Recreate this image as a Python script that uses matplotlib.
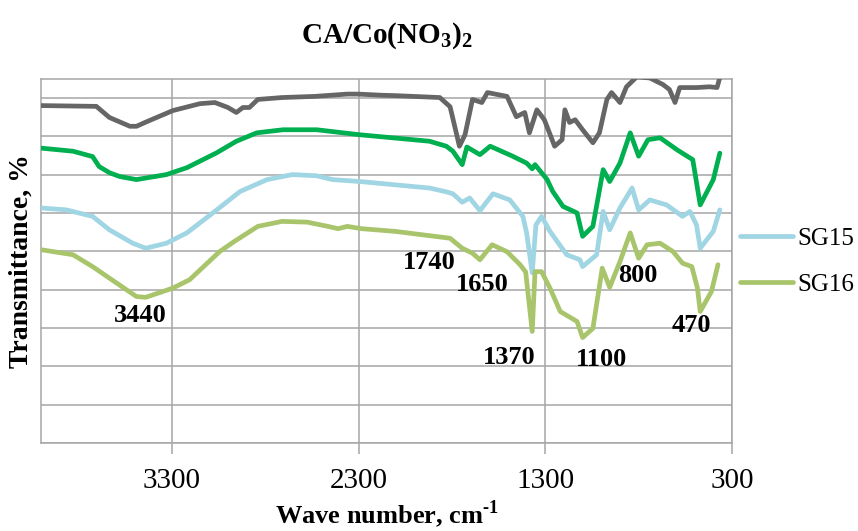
import matplotlib
matplotlib.use("Agg")
import matplotlib.pyplot as plt

plt.rcParams['font.family'] = ['Liberation Serif', 'DejaVu Serif']
plt.rcParams['mathtext.fontset'] = 'custom'
plt.rcParams['mathtext.rm'] = 'Liberation Serif:bold'
plt.rcParams['mathtext.bf'] = 'Liberation Serif:bold'

# FTIR spectra, wave number (cm-1) vs transmittance (offset curves)
gray_wn = [4000, 3705, 3635, 3525, 3490, 3435, 3295, 3150, 3070, 3000, 2955, 2920, 2885, 2840,
           2710, 2535, 2360, 2305, 2175, 2105, 1865, 1810, 1760, 1730, 1690, 1640, 1610, 1505,
           1455, 1410, 1385, 1345, 1305, 1250, 1210, 1195, 1170, 1140, 1100, 1045, 1010, 970,
           945, 900, 865, 810, 740, 670, 635, 605, 580, 490, 420, 380, 365]
gray_t = [88.0, 87.8, 84.9, 82.6, 82.6, 83.8, 86.7, 88.5, 88.8, 87.5, 86.2, 87.5, 87.5, 89.6,
          90.1, 90.4, 91.0, 91.0, 90.7, 90.6, 90.1, 87.7, 77.4, 80.4, 89.6, 88.8, 91.4, 90.4,
          85.1, 86.2, 80.9, 86.9, 84.3, 77.4, 79.1, 86.9, 83.6, 84.3, 81.7, 78.3, 80.9, 89.6,
          91.4, 88.8, 92.9, 95.5, 95.2, 93.5, 92.2, 88.8, 92.7, 92.7, 92.9, 92.7, 95.3]

green_wn = [4000, 3830, 3725, 3690, 3635, 3580, 3490, 3330, 3220, 3060, 2955, 2845, 2705, 2525,
            2295, 1920, 1830, 1795, 1745, 1720, 1650, 1595, 1475, 1400, 1370, 1355, 1290, 1260,
            1205, 1130, 1100, 1045, 990, 955, 900, 845, 800, 750, 685, 595, 540, 510, 470, 400, 365]
green_t = [76.9, 76.1, 74.7, 72.1, 70.5, 69.5, 68.7, 70.0, 71.8, 75.7, 78.7, 80.9, 81.7, 81.7,
           80.4, 78.7, 77.4, 76.1, 72.6, 77.2, 75.2, 77.4, 74.8, 73.0, 71.5, 72.6, 68.7, 65.6,
           61.7, 60.0, 53.9, 56.5, 71.3, 68.2, 73.0, 80.9, 74.8, 79.1, 79.6, 76.5, 74.8, 73.9,
           62.1, 68.7, 75.6]

sg15_wn = [4000, 3865, 3725, 3635, 3510, 3440, 3330, 3220, 3060, 2935, 2790, 2655, 2525, 2440,
           2295, 1920, 1830, 1795, 1745, 1705, 1650, 1580, 1490, 1420, 1400, 1370, 1350, 1320,
           1275, 1185, 1115, 1100, 1025, 990, 955, 900, 835, 800, 740, 650, 565, 525, 490, 470,
           400, 365]
sg15_t = [61.3, 60.8, 59.1, 55.6, 52.1, 50.8, 52.1, 54.8, 60.8, 65.6, 68.7, 70.0, 69.7, 68.7,
          68.2, 66.5, 65.5, 65.0, 62.8, 63.9, 60.6, 65.0, 63.4, 59.1, 54.8, 44.4, 56.9, 59.1,
          55.2, 49.1, 47.8, 46.0, 49.1, 60.4, 55.6, 61.3, 66.5, 60.8, 63.4, 62.1, 59.1, 60.4,
          56.9, 50.8, 55.2, 60.8]

sg16_wn = [4000, 3830, 3725, 3635, 3490, 3440, 3295, 3205, 3045, 2965, 2840, 2710, 2575, 2465,
           2410, 2360, 2285, 2105, 1810, 1745, 1690, 1650, 1585, 1505, 1435, 1405, 1370, 1355,
           1320, 1275, 1220, 1130, 1100, 1045, 995, 955, 900, 845, 800, 755, 685, 615, 565, 515,
           485, 470, 410, 375]
sg16_t = [50.4, 49.1, 46.0, 43.0, 38.2, 38.0, 40.4, 42.6, 49.9, 52.6, 56.5, 57.8, 57.6, 56.5,
          55.9, 56.5, 55.9, 55.2, 53.4, 50.8, 49.5, 47.8, 51.7, 49.9, 46.5, 44.6, 29.1, 44.7,
          44.7, 40.4, 34.3, 31.7, 27.5, 29.9, 45.6, 40.6, 47.3, 54.8, 48.2, 51.7, 52.1, 49.9,
          46.9, 46.0, 40.4, 34.3, 39.5, 46.5]

# band labels: text, wave number, transmittance
peak_text = ['3440', '1740', '1650', '1370', '1100', '800', '470']
peak_wn = [3468, 1924, 1640, 1496, 997, 804, 515]
peak_t = [33.2, 47.0, 41.3, 22.3, 21.9, 43.7, 30.6]

x_ticks = [3300, 2300, 1300, 300]

fig = plt.figure(figsize=(8.58, 5.31), dpi=100)
ax = fig.add_axes([0.0481, 0.1657, 0.805, 0.686])

lw = 3.4
style = dict(lw=lw, solid_joinstyle='round', solid_capstyle='round', zorder=3)
ax.plot(gray_wn, gray_t, color='#666666', **style)
ax.plot(green_wn, green_t, color='#00B050', **style)
l15, = ax.plot(sg15_wn, sg15_t, color='#A0D5E3', label='SG15', **style)
l16, = ax.plot(sg16_wn, sg16_t, color='#A8C56B', label='SG16', **style)

for txt, w, t in zip(peak_text, peak_wn, peak_t):
    ax.text(w, t, txt, ha='center', va='center', fontsize=19, fontweight='bold', zorder=4)

ax.set_xlim(4000, 300)
ax.set_ylim(0, 95)
ax.set_xticks(x_ticks)
ax.set_yticks(range(0, 95, 10))
ax.set_yticklabels([])
ax.grid(True, color='#A6A6A6', lw=1.1, zorder=1)
ax.tick_params(axis='x', length=8, width=1.1, color='#A6A6A6', labelsize=21, pad=10)
ax.tick_params(axis='y', length=0)
for s in ax.spines.values():
    s.set_color('#A6A6A6')
    s.set_linewidth(1.1)

ax.set_title(r'CA/Co(NO$_\mathbf{3}$)$_\mathbf{2}$', fontsize=21, fontweight='bold', pad=26)
ax.set_xlabel(r'Wave number, cm$^{\text{-1}}$', fontsize=19, fontweight='bold', labelpad=3)
ax.set_ylabel('Transmittance, %', fontsize=20, fontweight='bold', labelpad=2)

fig.legend(handles=[l15, l16], loc='upper left', bbox_to_anchor=(0.8625, 0.5725),
           frameon=False, fontsize=18, handlelength=2.1, handletextpad=0.2, labelspacing=0.95,
           borderaxespad=0, borderpad=0)

fig.savefig('out.png', dpi=100)
